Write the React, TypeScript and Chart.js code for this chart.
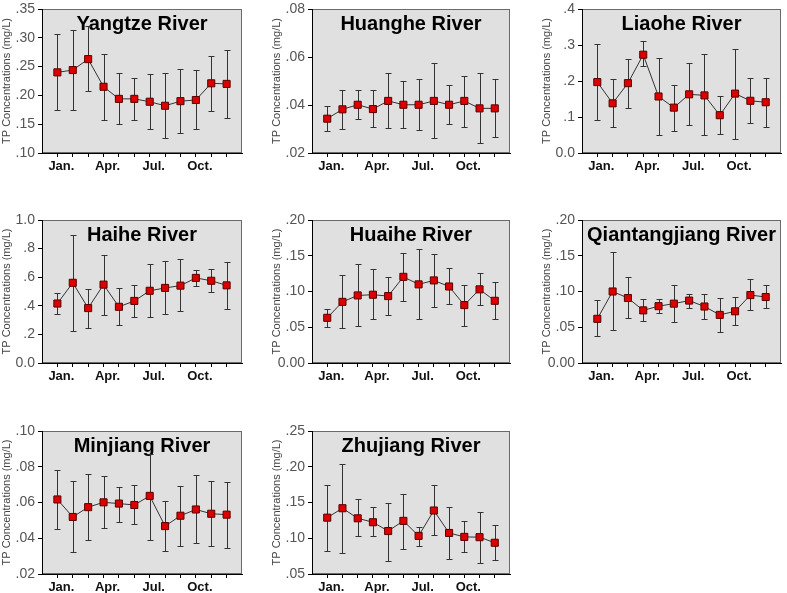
import React, { useEffect, useRef } from 'react';
import { Chart, registerables } from 'chart.js';

Chart.register(...registerables);
Chart.defaults.font.family = 'Arial, "Liberation Sans", Helvetica, sans-serif';

// ---------- shared axis data ----------
const monthPositions = [1, 2, 3, 4, 5, 6, 7, 8, 9, 10, 11, 12];
const monthLabels = ['Jan.', '', '', 'Apr.', '', '', 'Jul.', '', '', 'Oct.', '', ''];
const yAxisTitle = 'TP Concentrations (mg/L)';

// ---------- Yangtze ----------
const yangtzeMean = [0.240, 0.244, 0.263, 0.215, 0.194, 0.194, 0.189, 0.182, 0.190, 0.192, 0.221, 0.220];
const yangtzeHigh = [0.306, 0.313, 0.320, 0.272, 0.239, 0.230, 0.237, 0.239, 0.245, 0.244, 0.268, 0.278];
const yangtzeLow = [0.174, 0.174, 0.207, 0.157, 0.150, 0.157, 0.141, 0.126, 0.134, 0.141, 0.173, 0.160];
const yangtzeTicks = [0.10, 0.15, 0.20, 0.25, 0.30, 0.35];
const yangtzeTickLabels = ['.10', '.15', '.20', '.25', '.30', '.35'];

// ---------- Huanghe ----------
const huangheMean = [0.0343, 0.0382, 0.0401, 0.0383, 0.0417, 0.0401, 0.0401, 0.0417, 0.0401, 0.0417, 0.0386, 0.0386];
const huangheHigh = [0.0394, 0.0463, 0.0463, 0.0461, 0.0534, 0.0500, 0.0509, 0.0576, 0.0485, 0.0520, 0.0534, 0.0508];
const huangheLow = [0.0291, 0.0300, 0.0340, 0.0309, 0.0303, 0.0303, 0.0294, 0.0261, 0.0322, 0.0309, 0.0243, 0.0268];
const huangheTicks = [0.02, 0.04, 0.06, 0.08];
const huangheTickLabels = ['.02', '.04', '.06', '.08'];

// ---------- Liaohe ----------
const liaoheMean = [0.197, 0.138, 0.194, 0.273, 0.157, 0.126, 0.163, 0.160, 0.105, 0.165, 0.145, 0.141];
const liaoheHigh = [0.303, 0.205, 0.262, 0.310, 0.263, 0.189, 0.249, 0.274, 0.158, 0.290, 0.207, 0.209];
const liaoheLow = [0.093, 0.072, 0.126, 0.241, 0.051, 0.061, 0.078, 0.049, 0.052, 0.038, 0.084, 0.073];
const liaoheTicks = [0.0, 0.1, 0.2, 0.3, 0.4];
const liaoheTickLabels = ['0.0', '.1', '.2', '.3', '.4'];

// ---------- Haihe ----------
const haiheMean = [0.416, 0.561, 0.384, 0.548, 0.393, 0.434, 0.505, 0.525, 0.541, 0.595, 0.575, 0.543];
const haiheHigh = [0.493, 0.898, 0.518, 0.757, 0.523, 0.543, 0.689, 0.714, 0.727, 0.652, 0.655, 0.709];
const haiheLow = [0.341, 0.227, 0.248, 0.336, 0.264, 0.325, 0.325, 0.341, 0.364, 0.541, 0.495, 0.375];
const haiheTicks = [0.0, 0.2, 0.4, 0.6, 0.8, 1.0];
const haiheTickLabels = ['0.0', '.2', '.4', '.6', '.8', '1.0'];

// ---------- Huaihe ----------
const huaiheMean = [0.0632, 0.0855, 0.0945, 0.0955, 0.0936, 0.1205, 0.110, 0.1155, 0.107, 0.081, 0.103, 0.087];
const huaiheHigh = [0.0759, 0.1227, 0.139, 0.131, 0.120, 0.154, 0.160, 0.153, 0.133, 0.109, 0.126, 0.1136];
const huaiheLow = [0.0505, 0.0486, 0.0514, 0.0614, 0.0673, 0.0873, 0.0618, 0.079, 0.082, 0.052, 0.0805, 0.0618];
const huaiheTicks = [0.0, 0.05, 0.10, 0.15, 0.20];
const huaiheTickLabels = ['0.00', '.05', '.10', '.15', '.20'];

// ---------- Qiantangjiang ----------
const qiantangMean = [0.0618, 0.100, 0.0909, 0.0736, 0.0795, 0.083, 0.0873, 0.079, 0.0673, 0.0723, 0.095, 0.0923];
const qiantangHigh = [0.0882, 0.1555, 0.120, 0.0895, 0.0895, 0.1086, 0.0968, 0.0968, 0.0914, 0.0923, 0.1168, 0.1086];
const qiantangLow = [0.0373, 0.0455, 0.0627, 0.0582, 0.070, 0.0573, 0.0764, 0.0618, 0.0427, 0.0532, 0.0741, 0.0764];
const qiantangTicks = [0.0, 0.05, 0.10, 0.15, 0.20];
const qiantangTickLabels = ['0.00', '.05', '.10', '.15', '.20'];

// ---------- Minjiang ----------
const minjiangMean = [0.0617, 0.0519, 0.0574, 0.0601, 0.0594, 0.0586, 0.0637, 0.0468, 0.0526, 0.0561, 0.0537, 0.0532];
const minjiangHigh = [0.0783, 0.0718, 0.0759, 0.0749, 0.0688, 0.0697, 0.0869, 0.0606, 0.069, 0.0754, 0.0723, 0.0712];
const minjiangLow = [0.0453, 0.0322, 0.0388, 0.0455, 0.0493, 0.0477, 0.0391, 0.0331, 0.0359, 0.0371, 0.0359, 0.0348];
const minjiangTicks = [0.02, 0.04, 0.06, 0.08, 0.10];
const minjiangTickLabels = ['.02', '.04', '.06', '.08', '.10'];

// ---------- Zhujiang ----------
const zhujiangMean = [0.1288, 0.142, 0.1279, 0.1224, 0.1101, 0.1243, 0.1033, 0.1388, 0.1074, 0.1019, 0.1015, 0.0937];
const zhujiangHigh = [0.1739, 0.204, 0.1543, 0.1434, 0.150, 0.1625, 0.1156, 0.1739, 0.1434, 0.1247, 0.1366, 0.1179];
const zhujiangLow = [0.0828, 0.0787, 0.1028, 0.1028, 0.0682, 0.0846, 0.0892, 0.1042, 0.0705, 0.0805, 0.0659, 0.0696];
const zhujiangTicks = [0.05, 0.10, 0.15, 0.20, 0.25];
const zhujiangTickLabels = ['.05', '.10', '.15', '.20', '.25'];

// plot-area boxes [left, top, right, bottom] in page pixels
const panels = [
  { title: 'Yangtze River', mean: yangtzeMean, high: yangtzeHigh, low: yangtzeLow, ticks: yangtzeTicks, labels: yangtzeTickLabels, box: [42, 6, 246, 153] },
  { title: 'Huanghe River', mean: huangheMean, high: huangheHigh, low: huangheLow, ticks: huangheTicks, labels: huangheTickLabels, box: [312, 6, 514, 153] },
  { title: 'Liaohe River', mean: liaoheMean, high: liaoheHigh, low: liaoheLow, ticks: liaoheTicks, labels: liaoheTickLabels, box: [582, 6, 785, 153] },
  { title: 'Haihe River', mean: haiheMean, high: haiheHigh, low: haiheLow, ticks: haiheTicks, labels: haiheTickLabels, box: [42, 217, 246, 363] },
  { title: 'Huaihe River', mean: huaiheMean, high: huaiheHigh, low: huaiheLow, ticks: huaiheTicks, labels: huaiheTickLabels, box: [312, 217, 514, 363] },
  { title: 'Qiantangjiang River', mean: qiantangMean, high: qiantangHigh, low: qiantangLow, ticks: qiantangTicks, labels: qiantangTickLabels, box: [582, 217, 785, 363] },
  { title: 'Minjiang River', mean: minjiangMean, high: minjiangHigh, low: minjiangLow, ticks: minjiangTicks, labels: minjiangTickLabels, box: [42, 428, 246, 574] },
  { title: 'Zhujiang River', mean: zhujiangMean, high: zhujiangHigh, low: zhujiangLow, ticks: zhujiangTicks, labels: zhujiangTickLabels, box: [312, 428, 514, 574] },
];

const Y_AXIS_W = 42;
const X_AXIS_H = 30;
const PAD_TOP = 7;
const PAD_RIGHT = 2;

const decorPlugin = {
  id: 'panelDecor',
  beforeDraw(chart: any) {
    const { ctx, chartArea: a } = chart;
    ctx.save();
    ctx.fillStyle = '#e0e0e0';
    ctx.fillRect(a.left, a.top, a.right - a.left, a.bottom - a.top);
    ctx.strokeStyle = '#6a6a6a';
    ctx.lineWidth = 1;
    ctx.strokeRect(a.left + 0.5, a.top + 0.5, a.right - a.left - 1, a.bottom - a.top - 1);
    ctx.restore();
  },
  beforeDatasetsDraw(chart: any, _args: any, opts: any) {
    const { ctx, chartArea: a, scales } = chart;
    ctx.save();
    // title inside plot area
    ctx.fillStyle = '#000';
    ctx.font = 'bold 20px Arial, "Liberation Sans", sans-serif';
    ctx.textAlign = 'center';
    ctx.textBaseline = 'alphabetic';
    ctx.fillText(opts.title, (a.left + a.right) / 2, a.top + 21);
    // error bars
    ctx.strokeStyle = '#333';
    ctx.lineWidth = 1;
    const xs = scales.x;
    const ys = scales.y;
    opts.positions.forEach((m: number, i: number) => {
      const x = Math.round(xs.getPixelForValue(m)) + 0.5;
      const yh = Math.round(ys.getPixelForValue(opts.high[i])) + 0.5;
      const yl = Math.round(ys.getPixelForValue(opts.low[i])) + 0.5;
      ctx.beginPath();
      ctx.moveTo(x, yh);
      ctx.lineTo(x, yl);
      ctx.moveTo(x - 3, yh);
      ctx.lineTo(x + 3, yh);
      ctx.moveTo(x - 3, yl);
      ctx.lineTo(x + 3, yl);
      ctx.stroke();
    });
    ctx.restore();
  },
};

function Panel({ p }: { p: any }) {
  const ref = useRef<HTMLCanvasElement | null>(null);
  const [L, T, R, B] = p.box;
  const width = R - L + Y_AXIS_W + PAD_RIGHT;
  const height = B - T + PAD_TOP + X_AXIS_H;

  useEffect(() => {
    if (!ref.current) return;
    const chart = new Chart(ref.current, {
      type: 'scatter',
      data: {
        datasets: [
          {
            data: monthPositions.map((m, i) => ({ x: m, y: p.mean[i] })),
            showLine: true,
            borderColor: '#333',
            borderWidth: 1,
            pointStyle: 'rect',
            pointRadius: 5,
            pointBackgroundColor: '#dd0000',
            pointBorderColor: '#5a0000',
            pointBorderWidth: 1,
          },
        ],
      },
      options: {
        responsive: false,
        animation: false,
        events: [],
        layout: { padding: { top: PAD_TOP, right: PAD_RIGHT, left: 0, bottom: 0 } },
        plugins: {
          legend: { display: false },
          tooltip: { enabled: false },
          panelDecor: { title: p.title, high: p.high, low: p.low, positions: monthPositions },
        } as any,
        scales: {
          x: {
            type: 'linear',
            min: 0,
            max: 13,
            afterBuildTicks: (s: any) => {
              s.ticks = monthPositions.map((v) => ({ value: v }));
            },
            afterFit: (s: any) => {
              s.height = X_AXIS_H;
            },
            ticks: {
              autoSkip: false,
              maxRotation: 0,
              padding: 2,
              labelOffset: 4,
              color: '#111',
              font: { size: 13, weight: 'bold' },
              callback: (_v: any, i: number) => monthLabels[i],
            },
            grid: { drawOnChartArea: false, drawTicks: true, tickLength: 4, color: '#000' },
            border: { display: true, color: '#000', width: 1 },
          },
          y: {
            type: 'linear',
            min: p.ticks[0],
            max: p.ticks[p.ticks.length - 1],
            afterBuildTicks: (s: any) => {
              s.ticks = p.ticks.map((v: number) => ({ value: v }));
            },
            afterFit: (s: any) => {
              s.width = Y_AXIS_W;
            },
            ticks: {
              padding: 3,
              color: '#555',
              font: { size: 14, lineHeight: 1, family: '"Liberation Sans Narrow", "Arial Narrow", Arial, sans-serif' },
              callback: (_v: any, i: number) => p.labels[i],
            },
            title: {
              display: true,
              text: yAxisTitle,
              color: '#444',
              font: { size: 11 },
              padding: { top: 0, bottom: 0 },
            },
            grid: { drawOnChartArea: false, drawTicks: true, tickLength: 4, color: '#000' },
            border: { display: true, color: '#000', width: 1 },
          },
        },
      } as any,
      plugins: [decorPlugin],
    });
    return () => chart.destroy();
  }, []);

  return (
    <canvas
      ref={ref}
      width={width}
      height={height}
      style={{ position: 'absolute', left: L - Y_AXIS_W, top: T - PAD_TOP, width, height }}
    />
  );
}

export default function App() {
  useEffect(() => {
    document.body.style.margin = '0';
  }, []);
  return (
    <div style={{ position: 'absolute', left: 0, top: 0, width: 787, height: 593, overflow: 'hidden', background: '#fff' }}>
      {panels.map((p) => (
        <Panel key={p.title} p={p} />
      ))}
    </div>
  );
}
